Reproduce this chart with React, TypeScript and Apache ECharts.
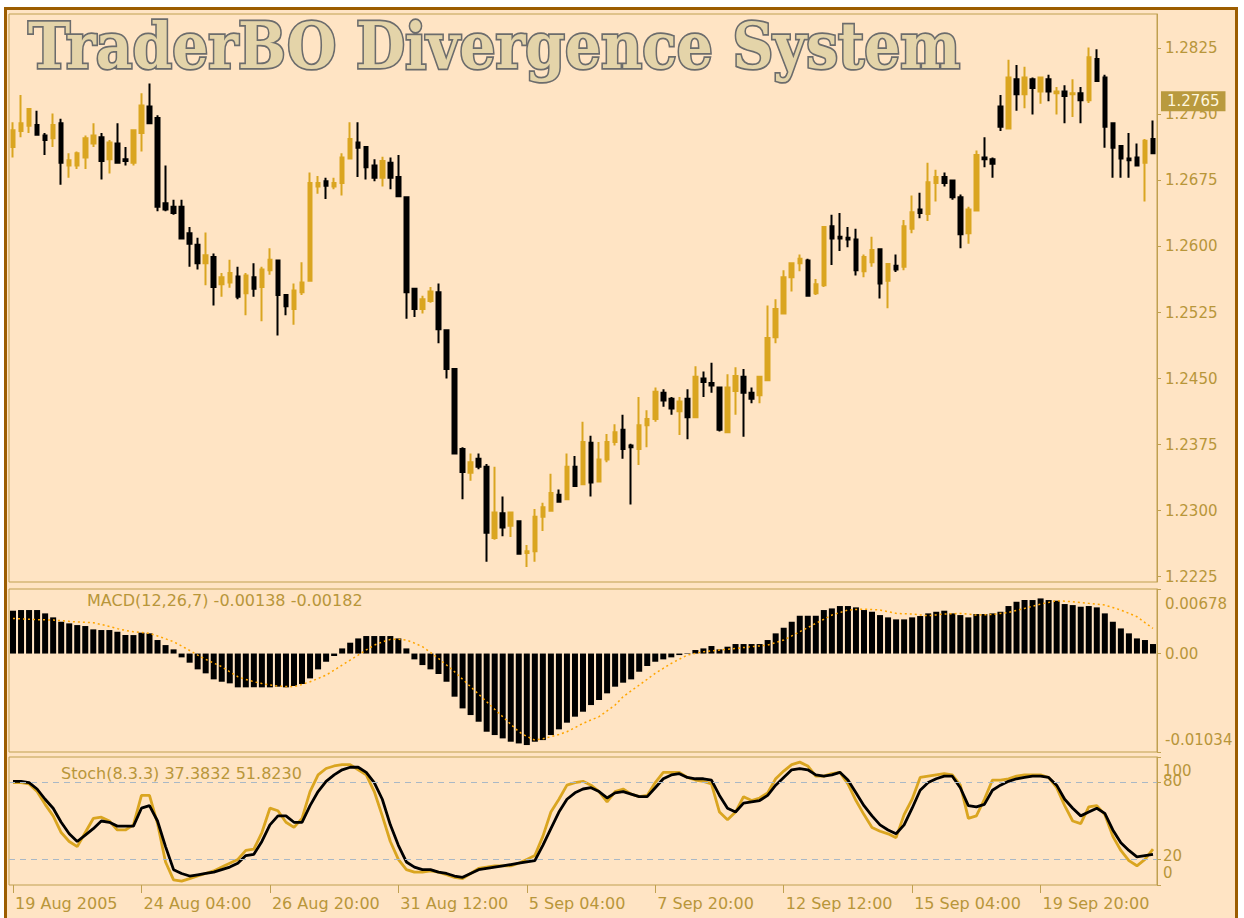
import React, { useEffect, useRef } from "react";
import * as echarts from "echarts";

// ---------- DATA ----------
// [open, close, low, high] per 4-hour bar
const candles: number[][] = [
  [1.2713, 1.2732, 1.2701, 1.2741], [1.2731, 1.2740, 1.2724, 1.2772], [1.2737, 1.2756, 1.2729, 1.2757],
  [1.2738, 1.2727, 1.2726, 1.2754], [1.2726, 1.2721, 1.2704, 1.2729], [1.2723, 1.2738, 1.2713, 1.2751],
  [1.2740, 1.2695, 1.2670, 1.2745], [1.2692, 1.2698, 1.2678, 1.2706], [1.2692, 1.2706, 1.2688, 1.2708],
  [1.2701, 1.2723, 1.2688, 1.2726], [1.2717, 1.2726, 1.2713, 1.2740], [1.2724, 1.2697, 1.2676, 1.2729],
  [1.2699, 1.2718, 1.2683, 1.2721], [1.2717, 1.2695, 1.2694, 1.2740], [1.2699, 1.2697, 1.2692, 1.2713],
  [1.2695, 1.2732, 1.2692, 1.2733], [1.2729, 1.2760, 1.2708, 1.2774], [1.2759, 1.2740, 1.2739, 1.2785],
  [1.2746, 1.2645, 1.2640, 1.2749], [1.2649, 1.2642, 1.2640, 1.2692], [1.2645, 1.2638, 1.2636, 1.2653],
  [1.2645, 1.2609, 1.2608, 1.2653], [1.2615, 1.2603, 1.2577, 1.2622], [1.2602, 1.2581, 1.2574, 1.2610],
  [1.2581, 1.2590, 1.2556, 1.2616], [1.2588, 1.2554, 1.2533, 1.2592], [1.2557, 1.2565, 1.2543, 1.2570],
  [1.2559, 1.2570, 1.2553, 1.2585], [1.2566, 1.2543, 1.2540, 1.2577], [1.2547, 1.2567, 1.2522, 1.2570],
  [1.2565, 1.2552, 1.2543, 1.2581], [1.2554, 1.2574, 1.2515, 1.2577], [1.2573, 1.2585, 1.2568, 1.2598],
  [1.2584, 1.2545, 1.2499, 1.2585], [1.2545, 1.2532, 1.2522, 1.2546], [1.2529, 1.2550, 1.2511, 1.2558],
  [1.2548, 1.2559, 1.2545, 1.2582], [1.2561, 1.2672, 1.2560, 1.2684], [1.2668, 1.2672, 1.2660, 1.2680],
  [1.2674, 1.2669, 1.2654, 1.2678], [1.2668, 1.2672, 1.2665, 1.2678], [1.2672, 1.2701, 1.2658, 1.2706],
  [1.2700, 1.2722, 1.2699, 1.2741], [1.2718, 1.2712, 1.2679, 1.2741], [1.2713, 1.2690, 1.2676, 1.2714],
  [1.2692, 1.2678, 1.2674, 1.2699], [1.2678, 1.2697, 1.2668, 1.2702], [1.2695, 1.2678, 1.2665, 1.2701],
  [1.2679, 1.2657, 1.2656, 1.2704], [1.2656, 1.2548, 1.2518, 1.2657], [1.2552, 1.2529, 1.2520, 1.2553],
  [1.2529, 1.2540, 1.2524, 1.2544], [1.2538, 1.2549, 1.2536, 1.2554], [1.2548, 1.2506, 1.2490, 1.2558],
  [1.2505, 1.2461, 1.2450, 1.2506], [1.2461, 1.2365, 1.2364, 1.2462], [1.2370, 1.2344, 1.2313, 1.2372],
  [1.2343, 1.2355, 1.2334, 1.2365], [1.2359, 1.2350, 1.2347, 1.2365], [1.2350, 1.2275, 1.2242, 1.2353],
  [1.2269, 1.2298, 1.2267, 1.2350], [1.2297, 1.2281, 1.2271, 1.2316], [1.2283, 1.2298, 1.2270, 1.2299],
  [1.2288, 1.2251, 1.2250, 1.2289], [1.2252, 1.2254, 1.2236, 1.2261], [1.2254, 1.2293, 1.2242, 1.2302],
  [1.2293, 1.2304, 1.2277, 1.2309], [1.2300, 1.2320, 1.2299, 1.2342], [1.2318, 1.2310, 1.2309, 1.2324],
  [1.2313, 1.2350, 1.2312, 1.2365], [1.2350, 1.2328, 1.2327, 1.2362], [1.2330, 1.2378, 1.2329, 1.2401],
  [1.2377, 1.2332, 1.2316, 1.2385], [1.2333, 1.2358, 1.2332, 1.2378], [1.2358, 1.2378, 1.2355, 1.2387],
  [1.2378, 1.2389, 1.2374, 1.2398], [1.2392, 1.2370, 1.2359, 1.2409], [1.2374, 1.2372, 1.2307, 1.2376],
  [1.2370, 1.2397, 1.2352, 1.2429], [1.2397, 1.2404, 1.2372, 1.2414], [1.2404, 1.2435, 1.2401, 1.2440],
  [1.2434, 1.2425, 1.2418, 1.2438], [1.2427, 1.2416, 1.2409, 1.2429], [1.2413, 1.2424, 1.2386, 1.2429],
  [1.2427, 1.2406, 1.2381, 1.2438], [1.2406, 1.2452, 1.2405, 1.2464], [1.2450, 1.2446, 1.2429, 1.2458],
  [1.2445, 1.2442, 1.2434, 1.2468], [1.2440, 1.2392, 1.2390, 1.2441], [1.2389, 1.2440, 1.2388, 1.2455],
  [1.2436, 1.2453, 1.2409, 1.2463], [1.2452, 1.2434, 1.2384, 1.2461], [1.2434, 1.2427, 1.2422, 1.2440],
  [1.2431, 1.2452, 1.2422, 1.2453], [1.2448, 1.2496, 1.2447, 1.2533], [1.2497, 1.2529, 1.2490, 1.2540],
  [1.2524, 1.2565, 1.2523, 1.2573], [1.2565, 1.2581, 1.2549, 1.2582], [1.2581, 1.2586, 1.2572, 1.2591],
  [1.2584, 1.2544, 1.2543, 1.2586], [1.2547, 1.2557, 1.2545, 1.2563], [1.2556, 1.2622, 1.2554, 1.2623],
  [1.2623, 1.2609, 1.2579, 1.2636], [1.2611, 1.2609, 1.2595, 1.2638], [1.2610, 1.2608, 1.2599, 1.2622],
  [1.2608, 1.2573, 1.2567, 1.2620], [1.2572, 1.2588, 1.2565, 1.2591], [1.2582, 1.2596, 1.2577, 1.2611],
  [1.2597, 1.2558, 1.2541, 1.2598], [1.2561, 1.2580, 1.2530, 1.2581], [1.2578, 1.2574, 1.2571, 1.2591],
  [1.2577, 1.2623, 1.2573, 1.2630], [1.2620, 1.2639, 1.2615, 1.2658], [1.2642, 1.2638, 1.2632, 1.2661],
  [1.2637, 1.2673, 1.2629, 1.2695], [1.2672, 1.2679, 1.2651, 1.2687], [1.2679, 1.2672, 1.2668, 1.2684],
  [1.2675, 1.2656, 1.2653, 1.2676], [1.2656, 1.2614, 1.2598, 1.2659], [1.2615, 1.2642, 1.2603, 1.2645],
  [1.2641, 1.2704, 1.2640, 1.2709], [1.2701, 1.2699, 1.2690, 1.2724], [1.2699, 1.2694, 1.2678, 1.2701],
  [1.2759, 1.2736, 1.2731, 1.2772], [1.2734, 1.2792, 1.2733, 1.2812], [1.2790, 1.2773, 1.2754, 1.2806],
  [1.2773, 1.2792, 1.2757, 1.2804], [1.2790, 1.2780, 1.2750, 1.2792], [1.2776, 1.2792, 1.2762, 1.2793],
  [1.2790, 1.2776, 1.2765, 1.2795], [1.2774, 1.2776, 1.2750, 1.2781], [1.2776, 1.2771, 1.2740, 1.2783],
  [1.2773, 1.2774, 1.2747, 1.2790], [1.2774, 1.2766, 1.2740, 1.2781], [1.2766, 1.2815, 1.2763, 1.2826],
  [1.2813, 1.2788, 1.2787, 1.2824], [1.2792, 1.2736, 1.2712, 1.2795], [1.2740, 1.2712, 1.2678, 1.2741],
  [1.2714, 1.2700, 1.2678, 1.2715], [1.2700, 1.2698, 1.2678, 1.2729], [1.2701, 1.2692, 1.2691, 1.2717],
  [1.2695, 1.2720, 1.2651, 1.2722], [1.2722, 1.2706, 1.2705, 1.2743],
];

const macdHist: number[] = [
  0.00450, 0.00457, 0.00457, 0.00457, 0.00422, 0.00380, 0.00334, 0.00317, 0.00299, 0.00289,
  0.00254, 0.00247, 0.00247, 0.00229, 0.00194, 0.00194, 0.00219, 0.00212, 0.00142, 0.00089,
  0.00044, -0.00040, -0.00096, -0.00166, -0.00208, -0.00271, -0.00296, -0.00313, -0.00355, -0.00355,
  -0.00355, -0.00355, -0.00355, -0.00348, -0.00355, -0.00341, -0.00320, -0.00261, -0.00166, -0.00086,
  -0.00026, 0.00054, 0.00114, 0.00159, 0.00184, 0.00184, 0.00184, 0.00184, 0.00159, 0.00054,
  -0.00061, -0.00121, -0.00166, -0.00215, -0.00296, -0.00453, -0.00576, -0.00646, -0.00716, -0.00821,
  -0.00856, -0.00891, -0.00926, -0.00944, -0.00961, -0.00926, -0.00909, -0.00856, -0.00796, -0.00726,
  -0.00663, -0.00611, -0.00541, -0.00488, -0.00418, -0.00348, -0.00306, -0.00271, -0.00191, -0.00131,
  -0.00086, -0.00061, -0.00040, -0.00016, -0.00005, 0.00037, 0.00054, 0.00079, 0.00044, 0.00072,
  0.00100, 0.00100, 0.00100, 0.00100, 0.00142, 0.00212, 0.00271, 0.00334, 0.00397, 0.00397,
  0.00397, 0.00457, 0.00474, 0.00499, 0.00499, 0.00485, 0.00457, 0.00439, 0.00404, 0.00380,
  0.00359, 0.00359, 0.00380, 0.00394, 0.00422, 0.00439, 0.00450, 0.00422, 0.00404, 0.00380,
  0.00415, 0.00415, 0.00422, 0.00439, 0.00499, 0.00544, 0.00562, 0.00562, 0.00579, 0.00562,
  0.00555, 0.00520, 0.00509, 0.00492, 0.00499, 0.00485, 0.00422, 0.00334, 0.00264, 0.00212,
  0.00159, 0.00142, 0.00100,
];

const macdSignal: number[] = [
  0.00369, 0.00365, 0.00360, 0.00356, 0.00354, 0.00352, 0.00345, 0.00338, 0.00332, 0.00328,
  0.00324, 0.00305, 0.00285, 0.00262, 0.00243, 0.00229, 0.00222, 0.00212, 0.00185, 0.00155,
  0.00124, 0.00080, 0.00032, -0.00016, -0.00060, -0.00100, -0.00138, -0.00192, -0.00243, -0.00272,
  -0.00296, -0.00315, -0.00330, -0.00341, -0.00346, -0.00348, -0.00325, -0.00296, -0.00262, -0.00226,
  -0.00175, -0.00121, -0.00068, -0.00016, 0.00038, 0.00089, 0.00122, 0.00149, 0.00150, 0.00142,
  0.00110, 0.00072, 0.00012, -0.00051, -0.00120, -0.00191, -0.00270, -0.00348, -0.00427, -0.00506,
  -0.00585, -0.00663, -0.00742, -0.00821, -0.00870, -0.00909, -0.00895, -0.00874, -0.00850, -0.00821,
  -0.00778, -0.00733, -0.00698, -0.00663, -0.00602, -0.00541, -0.00453, -0.00392, -0.00331, -0.00270,
  -0.00208, -0.00155, -0.00103, -0.00060, -0.00016, 0.00002, 0.00019, 0.00028, 0.00037, 0.00045,
  0.00054, 0.00063, 0.00072, 0.00080, 0.00089, 0.00115, 0.00142, 0.00185, 0.00229, 0.00273,
  0.00317, 0.00360, 0.00404, 0.00430, 0.00457, 0.00462, 0.00467, 0.00462, 0.00457, 0.00440,
  0.00422, 0.00418, 0.00415, 0.00406, 0.00397, 0.00406, 0.00415, 0.00418, 0.00422, 0.00413,
  0.00404, 0.00408, 0.00411, 0.00421, 0.00432, 0.00453, 0.00474, 0.00497, 0.00520, 0.00537,
  0.00555, 0.00550, 0.00544, 0.00535, 0.00527, 0.00518, 0.00509, 0.00483, 0.00457, 0.00422,
  0.00387, 0.00325, 0.00264,
];

const stochMain: number[] = [
  80, 80, 79, 73, 63, 54, 41, 34, 30, 41,
  52, 53, 50, 43, 43, 47, 70, 70, 48, 18,
  4, 3, 5, 7, 9, 11, 14, 17, 20, 27,
  28, 41, 60, 58, 49, 45, 52, 73, 86, 91,
  93, 94, 94, 90, 86, 73, 54, 34, 20, 12,
  10, 10, 11, 10, 8, 6, 5, 9, 13, 14,
  15, 15, 15, 17, 20, 23, 38, 57, 67, 78,
  80, 81, 78, 73, 65, 73, 75, 71, 69, 70,
  80, 88, 88, 88, 84, 82, 81, 79, 57, 51,
  57, 69, 66, 68, 72, 83, 89, 94, 96, 93,
  85, 85, 87, 88, 79, 66, 55, 45, 42, 40,
  37, 55, 67, 84, 85, 86, 87, 86, 78, 52,
  54, 67, 82, 82, 83, 85, 86, 86, 86, 84,
  76, 62, 50, 48, 61, 62, 55, 38, 27, 19,
  15, 20, 28,
];

const stochSignal: number[] = [
  81, 81, 80, 75, 67, 60, 49, 40, 34, 39,
  44, 50, 49, 46, 46, 46, 60, 62, 50, 30,
  12, 9, 7, 8, 9, 10, 12, 14, 17, 23,
  24, 34, 47, 54, 54, 49, 49, 62, 73, 81,
  86, 90, 92, 92, 88, 80, 67, 47, 31, 18,
  14, 12, 12, 10, 9, 7, 6, 9, 12, 13,
  14, 15, 16, 17, 18, 19, 31, 44, 57, 67,
  72, 75, 76, 73, 68, 72, 73, 71, 69, 69,
  76, 83, 86, 87, 84, 83, 83, 82, 70, 60,
  57, 64, 65, 66, 70, 78, 84, 90, 91, 90,
  86, 85, 86, 88, 82, 72, 62, 54, 47, 43,
  40, 47, 60, 74, 80, 83, 85, 85, 76, 62,
  61, 63, 74, 78, 81, 83, 84, 85, 85, 84,
  78, 67, 60, 54, 57, 60, 56, 43, 33, 27,
  22, 23, 24,
];

const tickLabels = [
  "19 Aug 2005", "24 Aug 04:00", "26 Aug 20:00", "31 Aug 12:00", "5 Sep 04:00",
  "7 Sep 20:00", "12 Sep 12:00", "15 Sep 04:00", "19 Sep 20:00",
];
const barsPerTick = 16;
const priceTicks = [1.2225, 1.23, 1.2375, 1.245, 1.2525, 1.26, 1.2675, 1.275, 1.2825];
const priceMin = 1.2219;
const priceMax = 1.2864;
const macdMin = -0.01034;
const macdMax = 0.00678;
const stochTicksA = [20, 100];
const stochTicksB = [0, 80];
const stochLevels = [20, 80];
const lastPrice = 1.2765;
const titleText = "TraderBO Divergence System";
const macdLabel = "MACD(12,26,7) -0.00138 -0.00182";
const stochLabel = "Stoch(8.3.3) 37.3832 51.8230";

// ---------- STYLE ----------
const BG = "#FFE4C4";
const FRAME = "#9C5D00";
const AXIS = "#C0A050";
const TXT = "#B8963A";
const UP = "#DAA520";
const DOWN = "#000000";
const FONT = "DejaVu Sans";

const categories = candles.map((_, i) => String(i));

export default function App() {
  const ref = useRef<HTMLDivElement>(null);

  useEffect(() => {
    if (!ref.current) return;
    const chart = echarts.init(ref.current, null, { renderer: "svg" });

    const gridBase = { left: 9, right: 87, show: true, borderColor: AXIS, borderWidth: 1, backgroundColor: "transparent" };
    const labelBase = { color: TXT, fontSize: 15, fontFamily: FONT };

    const stochLabelRich = {
      a: { ...labelBase, padding: [28, 0, 0, 0] },
      b: { ...labelBase, padding: [0, 0, 4, 0] },
      c: { ...labelBase, padding: [0, 0, 6, 0] },
      d: { ...labelBase, padding: [0, 0, 24, 0] },
    };
    const stochFormatter = (v: number) => {
      if (v === 100) return "{a|100}";
      if (v === 80) return "{b|80}";
      if (v === 20) return "{c|20}";
      return "{d|0}";
    };

    const option: any = {
      animation: false,
      backgroundColor: "#FFFFFF",
      grid: [
        { ...gridBase, top: 14, height: 568 },
        { ...gridBase, top: 589, height: 163 },
        { ...gridBase, top: 757, height: 128 },
      ],
      xAxis: [0, 1, 2].map((i) => ({
        type: "category",
        gridIndex: i,
        data: categories,
        boundaryGap: true,
        axisLine: { show: false },
        splitLine: { show: false },
        axisTick:
          i === 2
            ? {
                show: true,
                alignWithLabel: true,
                interval: (idx: number) => idx % barsPerTick === 0,
                length: 8,
                lineStyle: { color: AXIS },
              }
            : { show: false },
        axisLabel:
          i === 2
            ? {
                show: true,
                interval: (idx: number) => idx % barsPerTick === 0,
                formatter: (_v: string, idx: number) => tickLabels[idx / barsPerTick] ?? "",
                align: "left",
                color: TXT,
                fontSize: 16,
                fontFamily: FONT,
                margin: 10,
                padding: [0, 0, 0, 2],
              }
            : { show: false },
      })),
      yAxis: [
        {
          type: "value",
          gridIndex: 0,
          position: "right",
          min: priceMin,
          max: priceMax,
          axisLine: { show: true, lineStyle: { color: AXIS } },
          axisTick: { show: true, length: 4, customValues: priceTicks, lineStyle: { color: AXIS } },
          axisLabel: {
            ...labelBase,
            customValues: priceTicks,
            margin: 8,
            formatter: (v: number) => v.toFixed(4),
          },
          splitLine: { show: false },
        },
        {
          type: "value",
          gridIndex: 1,
          position: "right",
          min: macdMin,
          max: macdMax,
          axisLine: { show: true, lineStyle: { color: AXIS } },
          axisTick: { show: true, length: 4, customValues: [macdMin, 0, macdMax], lineStyle: { color: AXIS } },
          axisLabel: {
            ...labelBase,
            customValues: [macdMin, 0, macdMax],
            margin: 8,
            showMinLabel: true,
            showMaxLabel: true,
            formatter: (v: number) => {
              if (Math.abs(v - macdMax) < 1e-9) return `{dn|${macdMax.toFixed(5)}}`;
              if (Math.abs(v - macdMin) < 1e-9) return `{up|${macdMin.toFixed(5)}}`;
              return `{mid|0.00}`;
            },
            rich: {
              dn: { ...labelBase, padding: [30, 0, 0, 0] },
              up: { ...labelBase, padding: [0, 0, 24, 0] },
              mid: { ...labelBase },
            },
          },
          splitLine: { show: false },
        },
        {
          type: "value",
          gridIndex: 2,
          position: "right",
          min: 0,
          max: 100,
          axisLine: { show: true, lineStyle: { color: AXIS } },
          axisTick: { show: true, length: 4, customValues: stochTicksA, lineStyle: { color: AXIS } },
          axisLabel: {
            ...labelBase,
            customValues: stochTicksA,
            margin: 6,
            showMinLabel: true,
            showMaxLabel: true,
            formatter: stochFormatter,
            rich: stochLabelRich,
          },
          splitLine: { show: false },
        },
        {
          type: "value",
          gridIndex: 2,
          position: "right",
          min: 0,
          max: 100,
          axisLine: { show: false },
          axisTick: { show: true, length: 4, customValues: stochTicksB, lineStyle: { color: AXIS } },
          axisLabel: {
            ...labelBase,
            customValues: stochTicksB,
            margin: 6,
            showMinLabel: true,
            showMaxLabel: true,
            formatter: stochFormatter,
            rich: stochLabelRich,
          },
          splitLine: { show: false },
        },
        {
          type: "value",
          gridIndex: 0,
          position: "right",
          min: priceMin,
          max: priceMax,
          z: 5,
          axisLine: { show: false },
          axisTick: { show: false },
          axisLabel: {
            customValues: [lastPrice],
            margin: 4,
            showMinLabel: true,
            showMaxLabel: true,
            formatter: (v: number) => v.toFixed(4),
            backgroundColor: "#B99A3E",
            color: "#FFF6DE",
            fontSize: 15,
            fontFamily: FONT,
            padding: [3, 6, 2, 6],
          },
          splitLine: { show: false },
        },
      ],
      series: [
        {
          type: "candlestick",
          xAxisIndex: 0,
          yAxisIndex: 0,
          data: candles,
          barWidth: 4,
          itemStyle: { color: UP, color0: DOWN, borderColor: UP, borderColor0: DOWN, borderWidth: 2 },
          z: 3,
        },
        {
          type: "bar",
          xAxisIndex: 1,
          yAxisIndex: 1,
          data: macdHist,
          barWidth: 6,
          itemStyle: { color: "#000000" },
        },
        {
          type: "line",
          xAxisIndex: 1,
          yAxisIndex: 1,
          data: macdSignal,
          symbol: "none",
          lineStyle: { color: "#FFA500", width: 1.5, type: [2, 3] },
          z: 4,
        },
        {
          type: "line",
          xAxisIndex: 2,
          yAxisIndex: 2,
          data: stochMain,
          symbol: "none",
          lineStyle: { color: UP, width: 2.8 },
          markLine: {
            silent: true,
            symbol: "none",
            data: stochLevels.map((v) => ({ yAxis: v })),
            lineStyle: { color: "#A9B8C6", width: 1.2, type: [6, 5] },
            label: { show: false },
          },
        },
        {
          type: "line",
          xAxisIndex: 2,
          yAxisIndex: 2,
          data: stochSignal,
          symbol: "none",
          lineStyle: { color: "#000000", width: 2.8 },
        },
      ],
      graphic: [
        {
          type: "rect",
          z: -100,
          silent: true,
          shape: { x: 5.5, y: 8.5, width: 1231, height: 1000 },
          style: { fill: BG, stroke: FRAME, lineWidth: 3 },
        },
        {
          type: "text",
          x: 28,
          y: 13,
          scaleX: 0.885,
          z: 10,
          silent: true,
          style: {
            text: titleText,
            font: 'bold 64px "DejaVu Serif"',
            textAlign: "left",
            textVerticalAlign: "top",
            fill: "#E4D4A9",
            stroke: "#6C6C6C",
            lineWidth: 3.5,
          },
        },
        {
          type: "text",
          x: 87,
          y: 600,
          z: 10,
          silent: true,
          style: {
            text: macdLabel,
            font: `16px "${FONT}"`,
            fill: TXT,
            textAlign: "left",
            textVerticalAlign: "middle",
          },
        },
        {
          type: "text",
          x: 61,
          y: 773,
          z: 10,
          silent: true,
          style: {
            text: stochLabel,
            font: `16px "${FONT}"`,
            fill: TXT,
            textAlign: "left",
            textVerticalAlign: "middle",
          },
        },
      ],
    };

    chart.setOption(option);
    return () => chart.dispose();
  }, []);

  return (
    <div
      ref={ref}
      style={{ position: "fixed", left: 0, top: 0, width: 1244, height: 918, background: "#FFFFFF" }}
    />
  );
}
